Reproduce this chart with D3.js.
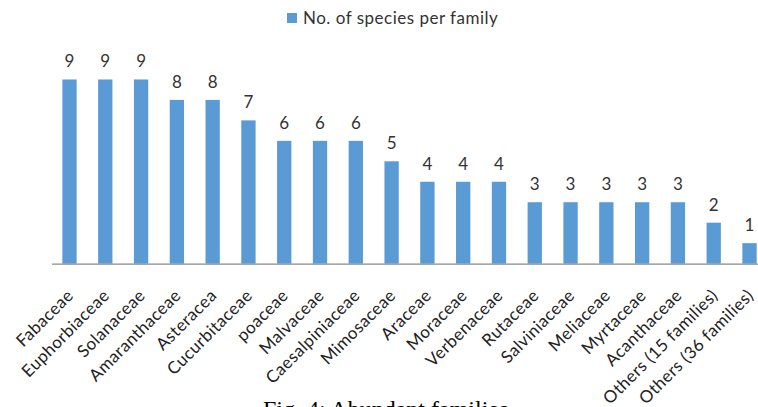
<!DOCTYPE html>
<html>
<head>
<meta charset="utf-8">
<script src="https://cdn.jsdelivr.net/npm/d3@7"></script>
<style>
  html, body { margin: 0; padding: 0; background: #fff; }
  svg { display: block; }
</style>
</head>
<body>
<svg id="chart" width="758" height="407"></svg>
<script>
// Families and their species counts
const families = [
  "Fabaceae", "Euphorbiaceae", "Solanaceae", "Amaranthaceae", "Asteracea",
  "Cucurbitaceae", "poaceae", "Malvaceae", "Caesalpiniaceae", "Mimosaceae",
  "Araceae", "Moraceae", "Verbenaceae", "Rutaceae", "Salviniaceae",
  "Meliaceae", "Myrtaceae", "Acanthaceae", "Others (15 families)", "Others (36 families)"
];
const speciesCounts = [9, 9, 9, 8, 8, 7, 6, 6, 6, 5, 4, 4, 4, 3, 3, 3, 3, 3, 2, 1];
const seriesName = "No. of species per family";
const caption = "Fig. 4: Abundant families";

const data = families.map((f, i) => ({ family: f, count: speciesCounts[i] }));

const svg = d3.select("#chart");
const baseY = 263.6;
const labelFont = "Lato, 'Open Sans', sans-serif";
const barColor = "#5B9BD5";

const x = d3.scaleBand()
  .domain(families)
  .range([51.6, 767.4])
  .paddingInner(0.6)
  .paddingOuter(0.3);

const y = d3.scaleLinear()
  .domain([0, 10])
  .range([baseY, 59]);

// Bars
svg.append("g")
  .selectAll("rect")
  .data(data)
  .join("rect")
  .attr("x", d => x(d.family))
  .attr("y", d => y(d.count))
  .attr("width", x.bandwidth())
  .attr("height", d => baseY - y(d.count))
  .attr("fill", barColor);

// Value labels above bars
svg.append("g")
  .selectAll("text")
  .data(data)
  .join("text")
  .attr("x", d => x(d.family) + x.bandwidth() / 2)
  .attr("y", d => y(d.count) - 12)
  .attr("text-anchor", "middle")
  .attr("font-family", labelFont)
  .attr("font-size", 17)
  .attr("fill", "#333")
  .text(d => d.count);

// Category axis
const axis = svg.append("g")
  .attr("transform", `translate(0,${baseY})`)
  .call(d3.axisBottom(x).tickSize(0).tickSizeOuter(0));

axis.select(".domain")
  .attr("stroke", "#888")
  .attr("stroke-width", 1.2);

axis.selectAll(".tick text")
  .attr("x", 0)
  .attr("y", 0)
  .attr("dy", 0)
  .attr("transform", "translate(5,33) rotate(-45)")
  .attr("text-anchor", "end")
  .attr("font-family", labelFont)
  .attr("font-size", 17)
  .attr("letter-spacing", 0.4)
  .attr("fill", "#222");

// Legend
const legend = svg.append("g").attr("transform", "translate(287,13)");
legend.append("rect")
  .attr("width", 10)
  .attr("height", 10)
  .attr("fill", barColor);
legend.append("text")
  .attr("x", 16)
  .attr("y", 10.5)
  .attr("font-family", labelFont)
  .attr("font-size", 17)
  .attr("letter-spacing", 0.5)
  .attr("fill", "#333")
  .text(seriesName);

// Figure caption
svg.append("text")
  .attr("x", 263)
  .attr("y", 417)
  .attr("font-family", "'Liberation Serif', 'Times New Roman', serif")
  .attr("font-size", 24)
  .attr("fill", "#000")
  .text(caption);
</script>
</body>
</html>
